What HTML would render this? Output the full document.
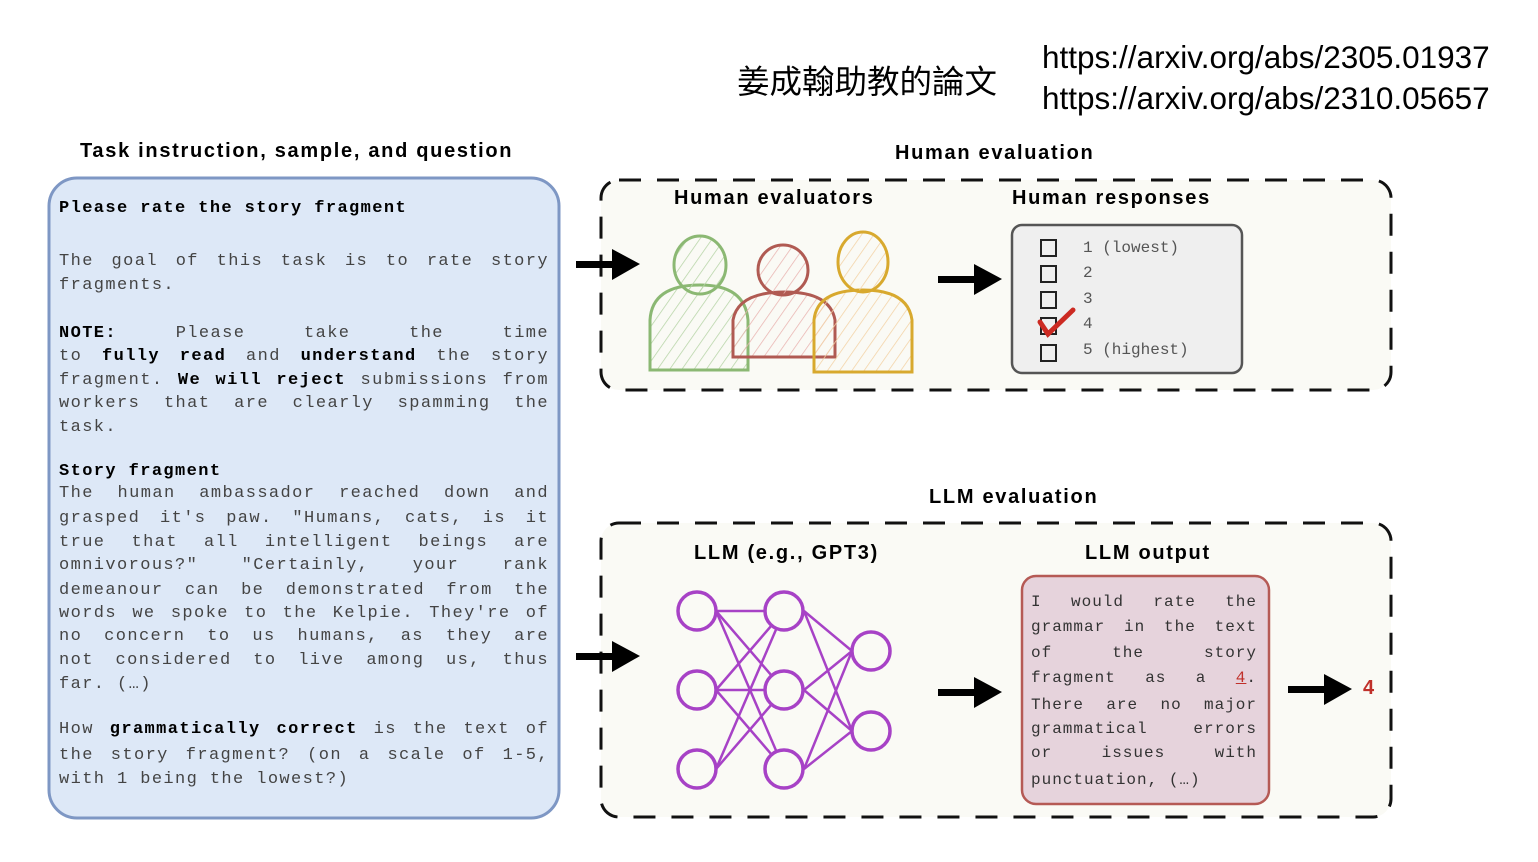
<!DOCTYPE html>
<html><head><meta charset="utf-8"><style>
body{margin:0;width:1538px;height:862px;background:#fff;position:relative;overflow:hidden;font-family:"Liberation Sans",sans-serif}
.a{position:absolute;white-space:nowrap}
.h{font-weight:bold;font-size:20px;color:#000;letter-spacing:1.7px}
.m{font-family:"Liberation Mono",monospace;font-size:17px;letter-spacing:1.4px;color:#444;position:absolute;left:59px;width:490px;text-align:justify;text-align-last:justify;white-space:nowrap;line-height:20px}
.m b{color:#000}
.o{font-family:"Liberation Mono",monospace;font-size:16px;letter-spacing:1px;color:#333;position:absolute;left:1031px;width:226px;text-align:justify;text-align-last:justify;white-space:nowrap;line-height:20px}
.l{text-align-last:left !important}
.r{font-family:"Liberation Mono",monospace;font-size:16px;color:#555;position:absolute;left:1083px;line-height:20px}
</style></head><body>
<svg class="a" style="left:0;top:0" width="1538" height="862">
<defs>
<pattern id="hg" width="10" height="10" patternUnits="userSpaceOnUse" patternTransform="rotate(35)"><line x1="0" y1="0" x2="0" y2="10" stroke="#b6d4a6" stroke-width="1.5"/></pattern>
<pattern id="hr" width="10" height="10" patternUnits="userSpaceOnUse" patternTransform="rotate(35)"><line x1="0" y1="0" x2="0" y2="10" stroke="#e9b3b0" stroke-width="1.5"/></pattern>
<pattern id="hy" width="10" height="10" patternUnits="userSpaceOnUse" patternTransform="rotate(35)"><line x1="0" y1="0" x2="0" y2="10" stroke="#f3d2a4" stroke-width="1.5"/></pattern>
</defs>
<rect x="49" y="178" width="510" height="640" rx="28" fill="#dde8f7" stroke="#7e97c4" stroke-width="3"/>
<rect x="601" y="180" width="790" height="210" rx="18" fill="#fafaf5" stroke="#111" stroke-width="3" stroke-dasharray="22,16"/>
<rect x="601" y="523" width="790" height="294" rx="18" fill="#fafaf5" stroke="#111" stroke-width="3" stroke-dasharray="22,16"/>
<g stroke-width="3">
<path d="M650 370 L650 320 Q652 285 700 285 Q745 285 748 320 L748 370 Z" fill="url(#hg)" stroke="#8bb873"/>
<ellipse cx="700" cy="265" rx="26" ry="29" fill="url(#hg)" stroke="#8bb873"/>
<path d="M733 357 L733 320 Q738 292 785 292 Q830 292 835 320 L835 357 Z" fill="url(#hr)" stroke="#b05a52"/>
<ellipse cx="783" cy="270" rx="25" ry="25" fill="url(#hr)" stroke="#b05a52"/>
<path d="M814 372 L814 320 Q817 290 863 290 Q908 290 912 320 L912 372 Z" fill="url(#hy)" stroke="#d8a92e"/>
<ellipse cx="863" cy="262" rx="25" ry="30" fill="url(#hy)" stroke="#d8a92e"/>
</g>
<rect x="1012" y="225" width="230" height="148" rx="10" fill="#efefef" stroke="#555" stroke-width="2.5"/>
<g fill="none" stroke="#222" stroke-width="2">
<rect x="1041" y="240" width="15" height="16"/><rect x="1041" y="266" width="15" height="16"/>
<rect x="1041" y="292" width="15" height="16"/><rect x="1041" y="318" width="15" height="16"/>
<rect x="1041" y="345" width="15" height="16"/></g>
<path d="M1040 322 L1048 334 L1073 310" fill="none" stroke="#cc2a22" stroke-width="5" stroke-linecap="round"/>
<rect x="1022" y="576" width="247" height="228" rx="14" fill="#e6d3dc" stroke="#b55a55" stroke-width="2.5"/>
<g stroke="#a742c6" stroke-width="2.5" fill="none">
<line x1="716" y1="611" x2="784" y2="611"/><line x1="716" y1="690" x2="784" y2="690"/>
<line x1="716" y1="611" x2="784" y2="690"/><line x1="716" y1="611" x2="784" y2="769"/>
<line x1="716" y1="690" x2="784" y2="611"/><line x1="716" y1="690" x2="784" y2="769"/>
<line x1="716" y1="769" x2="784" y2="611"/><line x1="716" y1="769" x2="784" y2="690"/>
<line x1="804" y1="611" x2="852" y2="651"/><line x1="804" y1="611" x2="852" y2="731"/>
<line x1="804" y1="690" x2="852" y2="651"/><line x1="804" y1="690" x2="852" y2="731"/>
<line x1="804" y1="769" x2="852" y2="651"/><line x1="804" y1="769" x2="852" y2="731"/>
<g stroke-width="3.5" fill="#fafaf5">
<circle cx="697" cy="611" r="19"/><circle cx="697" cy="690" r="19"/><circle cx="697" cy="769" r="19"/>
<circle cx="784" cy="611" r="19"/><circle cx="784" cy="690" r="19"/><circle cx="784" cy="769" r="19"/>
<circle cx="871" cy="651" r="19"/><circle cx="871" cy="731" r="19"/></g></g>
<g fill="#000">
<rect x="576" y="261" width="40" height="7"/><path d="M612 249 L640 264 L612 280Z"/>
<rect x="576" y="653" width="40" height="7"/><path d="M612 641 L640 656 L612 672Z"/>
<rect x="938" y="276" width="40" height="7"/><path d="M974 264 L1002 279 L974 295Z"/>
<rect x="938" y="689" width="40" height="7"/><path d="M974 677 L1002 692 L974 708Z"/>
<rect x="1288" y="686" width="40" height="7"/><path d="M1324 674 L1352 689 L1324 705Z"/>
</g>
</svg>
<div class="a" style="left:737px;top:56px;font-size:32.5px;font-family:'Liberation Sans','Noto Sans CJK TC',sans-serif">姜成翰助教的論文</div>
<div class="a" style="left:1042px;top:37px;font-size:31.5px;line-height:41px">https://arxiv.org/abs/2305.01937<br>https://arxiv.org/abs/2310.05657</div>
<div class="a h" style="left:80px;top:140px">Task instruction, sample, and question</div>
<div class="a h" style="left:895px;top:142px">Human evaluation</div>
<div class="a h" style="left:674px;top:187px">Human evaluators</div>
<div class="a h" style="left:1012px;top:187px">Human responses</div>
<div class="a h" style="left:929px;top:486px">LLM evaluation</div>
<div class="a h" style="left:694px;top:542px">LLM (e.g., GPT3)</div>
<div class="a h" style="left:1085px;top:542px">LLM output</div>
<div class="a" style="left:1363px;top:677px;font-size:20px;font-weight:bold;color:#c0302a">4</div>

<div class="m l" style="top:199px"><b>Please rate the story fragment</b></div>
<div class="m" style="top:252px">The goal of this task is to rate story</div>
<div class="m l" style="top:276px">fragments.</div>
<div class="m" style="top:324px"><b>NOTE:</b> Please take the time</div>
<div class="m" style="top:347px">to <b>fully read</b> and <b>understand</b> the story</div>
<div class="m" style="top:371px">fragment. <b>We will reject</b> submissions from</div>
<div class="m" style="top:394px">workers that are clearly spamming the</div>
<div class="m l" style="top:418px">task.</div>
<div class="m l" style="top:462px"><b>Story fragment</b></div>
<div class="m" style="top:484px">The human ambassador reached down and</div>
<div class="m" style="top:509px">grasped it's paw. "Humans, cats, is it</div>
<div class="m" style="top:533px">true that all intelligent beings are</div>
<div class="m" style="top:556px">omnivorous?" "Certainly, your rank</div>
<div class="m" style="top:581px">demeanour can be demonstrated from the</div>
<div class="m" style="top:604px">words we spoke to the Kelpie. They're of</div>
<div class="m" style="top:627px">no concern to us humans, as they are</div>
<div class="m" style="top:651px">not considered to live among us, thus</div>
<div class="m l" style="top:675px">far. (…)</div>
<div class="m" style="top:720px">How <b>grammatically correct</b> is the text of</div>
<div class="m" style="top:746px">the story fragment? (on a scale of 1-5,</div>
<div class="m l" style="top:770px">with 1 being the lowest?)</div>

<div class="r" style="top:238px">1 (lowest)</div>
<div class="r" style="top:263px">2</div>
<div class="r" style="top:289px">3</div>
<div class="r" style="top:314px">4</div>
<div class="r" style="top:340px">5 (highest)</div>

<div class="o" style="top:592px">I would rate the</div>
<div class="o" style="top:617px">grammar in the text</div>
<div class="o" style="top:643px">of the story</div>
<div class="o" style="top:668px">fragment as a <u style="color:#c0302a">4</u>.</div>
<div class="o" style="top:695px">There are no major</div>
<div class="o" style="top:719px">grammatical errors</div>
<div class="o" style="top:743px">or issues with</div>
<div class="o l" style="top:770px">punctuation, (…)</div>
</body></html>
